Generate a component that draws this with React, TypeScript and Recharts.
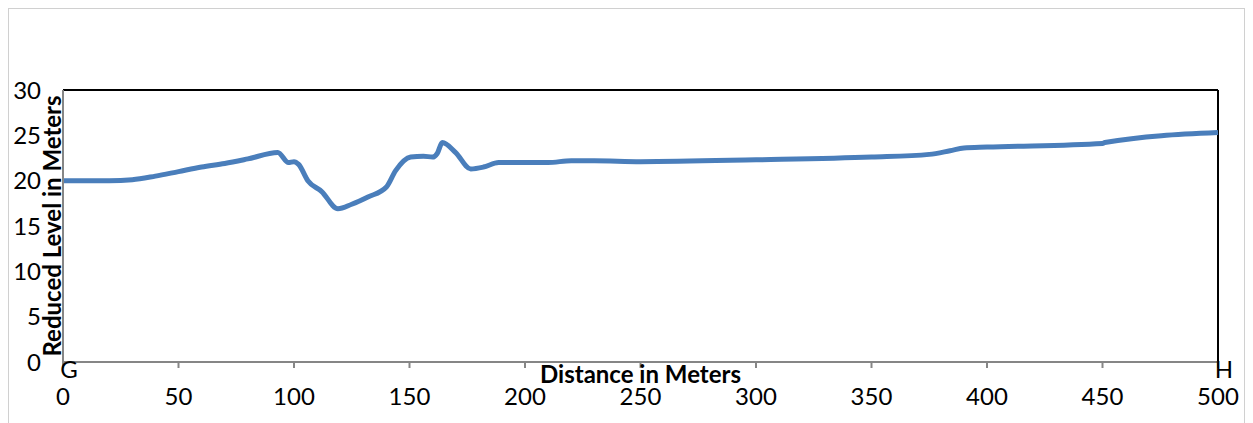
import React from 'react';
import { LineChart, Line, XAxis, YAxis, ReferenceLine, Label } from 'recharts';

// Distance along the section (m) and reduced level (m)
const distance = [0, 10, 20, 30, 40, 50, 60, 70, 80, 93, 97.6, 100, 102, 106, 112, 119, 125, 132, 140, 144, 150.5, 156, 160, 162, 164.2, 170, 176.5, 182, 188.6, 200, 210, 220, 230, 250, 300, 350, 375, 384, 390, 400, 450, 451, 500];
const level = [20.0, 20.0, 20.0, 20.1, 20.5, 21.0, 21.5, 21.9, 22.4, 23.1, 22.0, 22.1, 21.8, 20.0, 18.8, 16.9, 17.4, 18.2, 19.3, 21.1, 22.6, 22.7, 22.6, 23.0, 24.2, 23.1, 21.3, 21.5, 22.0, 22.0, 22.0, 22.2, 22.2, 22.1, 22.3, 22.6, 22.9, 23.3, 23.6, 23.7, 24.1, 24.2, 25.3];

const xTicks = [0, 50, 100, 150, 200, 250, 300, 350, 400, 450, 500];
const yTicks = [0, 5, 10, 15, 20, 25, 30];
// station letters at the ends of the section
const endLabels: Record<number, string> = { 0: 'G', 500: 'H' };

const data = distance.map((d, i) => ({ distance: d, level: level[i] }));

const FONT = 'Lato, "Open Sans", sans-serif';
const FS = 24;

const XTick = (props: any) => {
  const { x, y, payload } = props;
  const letter = endLabels[payload.value];
  return (
    <g>
      <text x={x} y={y + 35} textAnchor="middle" fontSize={FS} fontFamily={FONT} fill="#000">
        {payload.value}
      </text>
      {letter && (
        <text x={x + 6} y={y + 8} textAnchor="middle" fontSize={FS} fontFamily={FONT} fill="#000">
          {letter}
        </text>
      )}
    </g>
  );
};

export default function App() {
  return (
    <div
      style={{
        width: 1237,
        height: 415,
        boxSizing: 'border-box',
        borderTop: '1px solid #d0d0d0',
        borderLeft: '1px solid #d0d0d0',
        borderRight: '1px solid #d0d0d0',
        background: '#fff',
      }}
    >
      <LineChart width={1235} height={414} data={data} margin={{ top: 81, right: 26, bottom: 9, left: 53 }}>
        <XAxis
          dataKey="distance"
          type="number"
          domain={[0, 500]}
          ticks={xTicks}
          tick={<XTick />}
          stroke="#868686"
          strokeWidth={2}
          tickSize={6}
          height={52}
        >
          <Label
            value="Distance in Meters"
            position="insideTop"
            offset={4}
            style={{ fontFamily: FONT, fontWeight: 700, fontSize: FS, fill: '#000' }}
          />
        </XAxis>
        <YAxis
          type="number"
          domain={[0, 30]}
          ticks={yTicks}
          tickLine={false}
          stroke="#868686"
          strokeWidth={2}
          tick={{ fontSize: FS, fontFamily: FONT, fill: '#000' }}
          tickMargin={16}
          width={1}
          interval={0}
        >
          <Label
            value="Reduced Level in Meters"
            angle={-90}
            position="center"
            dx={-10}
            style={{ fontFamily: FONT, fontWeight: 700, fontSize: FS, fill: '#000', textAnchor: 'middle' }}
          />
        </YAxis>
        <ReferenceLine y={30} stroke="#000" strokeWidth={2} />
        <ReferenceLine x={500} stroke="#000" strokeWidth={2} />
        <Line
          type="monotone"
          dataKey="level"
          stroke="#4a7ebb"
          strokeWidth={5}
          dot={false}
          isAnimationActive={false}
        />
      </LineChart>
    </div>
  );
}
